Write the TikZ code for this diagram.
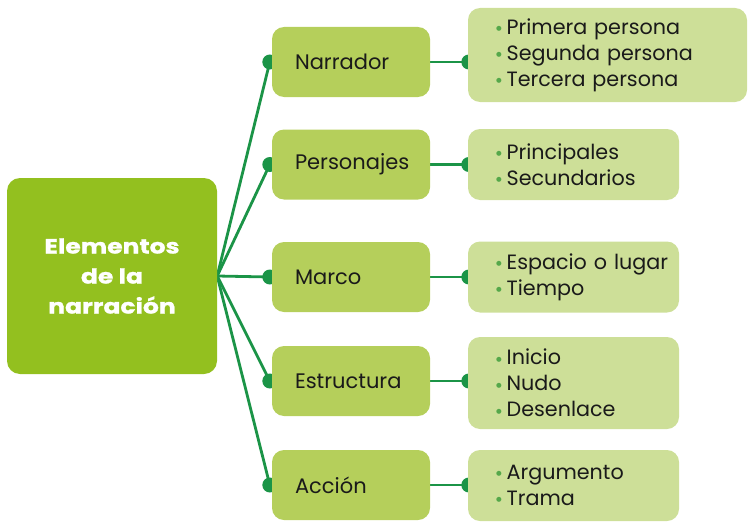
\documentclass[tikz,border=0pt]{standalone}
\usepackage{fontspec}
\setmainfont{Poppins}
\newfontfamily\mainfont[FakeStretch=1.22,FakeBold=1.2]{Poppins}
\newfontfamily\dejavu{DejaVu Sans}
\usetikzlibrary{backgrounds}
\definecolor{mainc}{HTML}{93C01F}
\definecolor{midc}{HTML}{B5CF5B}
\definecolor{rightc}{HTML}{CDDF98}
\definecolor{linec}{HTML}{1B9447}
\definecolor{bulc}{HTML}{55A84A}
\definecolor{txtc}{HTML}{1A1A1A}
\newcommand\bitem[1]{\mbox{\textcolor{bulc}{\raisebox{3.6pt}{\dejavu\fontsize{6.5}{6.5}\selectfont ●}}\hspace{5pt}#1}}
\tikzset{
  mainbox/.style={fill=mainc, rounded corners=13pt, minimum width=210pt, minimum height=196pt,
    text=white, font=\mainfont\fontsize{20.5}{30}\selectfont\bfseries, align=center, inner sep=0pt},
  midbox/.style={fill=midc, rounded corners=12pt, minimum width=158pt, minimum height=70pt,
    text=txtc, font=\fontsize{21}{26}\selectfont, text width=112pt, align=left, inner xsep=23pt, inner ysep=0pt},
  rightbox/.style={fill=rightc, rounded corners=12pt, minimum width=211pt, minimum height=71pt,
    text=txtc, font=\fontsize{20.7}{26}\selectfont, text width=155pt, align=left, inner xsep=28pt, inner ysep=0pt},
  conn/.style={draw=linec, line width=2.8pt},
  dotc/.style={fill=linec}
}
\begin{document}
\begin{tikzpicture}[x=1pt,y=-1pt]
\useasboundingbox (0,0) rectangle (749,527);
\node[mainbox] (main) at (112,276) {Elementos\\de la\\narración};

\node[midbox] (m1) at (351,62) {\mbox{Narrador}};
\node[midbox] (m2) at (351,164.5) {\mbox{Personajes}};
\node[midbox] (m3) at (351,277) {\mbox{Marco}};
\node[midbox] (m4) at (351,381) {\mbox{Estructura}};
\node[midbox] (m5) at (351,485) {\mbox{Acción}};

\node[rightbox, minimum width=279pt, text width=223pt, minimum height=94pt] (r1) at (607.5,55) {\bitem{Primera persona}\\\bitem{Segunda persona}\\\bitem{Tercera persona}};
\node[rightbox] (r2) at (573.5,164.5) {\bitem{Principales}\\\bitem{Secundarios}};
\node[rightbox] (r3) at (573.5,277) {\bitem{Espacio o lugar}\\\bitem{Tiempo}};
\node[rightbox, minimum height=92pt] (r4) at (573.5,383) {\bitem{Inicio}\\\bitem{Nudo}\\\bitem{Desenlace}};
\node[rightbox] (r5) at (573.5,485.5) {\bitem{Argumento}\\\bitem{Trama}};

\begin{scope}[on background layer]
\foreach \i in {1,...,5}{
  \draw[conn] (main.east) -- ([xshift=-2pt]m\i.west);
  \fill[dotc] ([xshift=-2pt]m\i.west) circle (7.5pt);
}
\foreach \i/\y in {1/62,2/164.5,3/277,4/381,5/485}{
  \coordinate (d\i) at (r\i.west |- 0,\y);
  \draw[conn] (m\i.east |- d\i) -- (d\i);
  \fill[dotc] ([xshift=1pt]d\i) circle (7.5pt);
}
\end{scope}
\end{tikzpicture}
\end{document}
